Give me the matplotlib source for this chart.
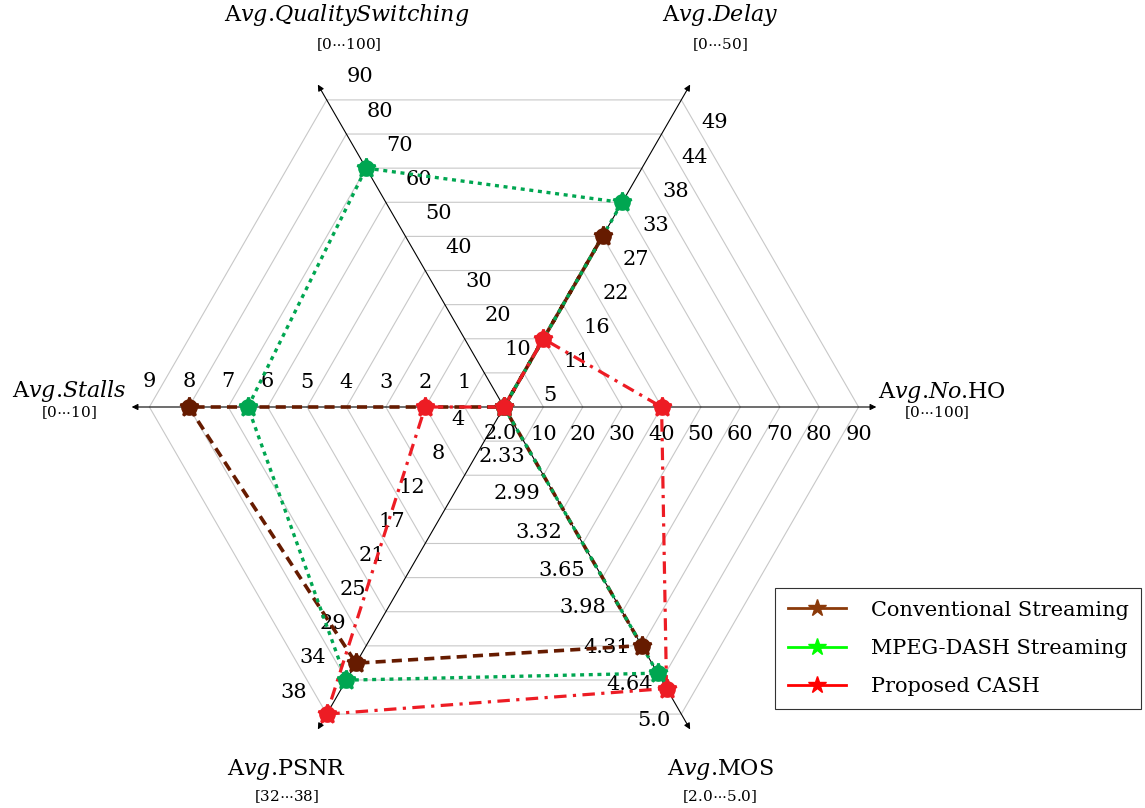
import numpy as np
import matplotlib.pyplot as plt
from matplotlib.lines import Line2D

plt.rcParams['font.family'] = 'DejaVu Serif'
plt.rcParams['mathtext.fontset'] = 'dejavuserif'

# axes, clockwise from the upper left spoke
axis_titles = [r'A$vg$.$QualitySwitching$', r'A$vg$.$Delay$', r'A$vg$.$No$.HO',
               r'A$vg$.MOS', r'A$vg$.PSNR', r'A$vg$.$Stalls$']
axis_ranges = [r'[0$\cdots$100]', r'[0$\cdots$50]', r'[0$\cdots$100]',
               r'[2.0$\cdots$5.0]', r'[32$\cdots$38]', r'[0$\cdots$10]']
axis_angles = [120, 60, 0, -60, -120, 180]
axis_min = [0, 0, 0, 2.0, 0, 0]
axis_step = [10, 50 / 9, 10, 1 / 3, 38 / 9, 1]   # value of one grid ring

qs_ticks = ['10', '20', '30', '40', '50', '60', '70', '80', '90']
delay_ticks = ['5', '11', '16', '22', '27', '33', '38', '44', '49']
noho_ticks = ['10', '20', '30', '40', '50', '60', '70', '80', '90']
mos_ticks = ['2.0', '2.33', '2.99', '3.32', '3.65', '3.98', '4.31', '4.64', '5.0']
psnr_ticks = ['4', '8', '12', '17', '21', '25', '29', '34', '38']
stalls_ticks = ['1', '2', '3', '4', '5', '6', '7', '8', '9']

# values: QS, Delay, No.HO, MOS, PSNR, Stalls
conventional = [0, 27.8, 0, 4.33, 31.7, 8]
mpeg_dash = [70, 33.3, 0, 4.6, 33.8, 6.5]
cash = [0, 11.1, 40, 4.75, 38.0, 2]

series_names = ['Conventional Streaming', 'MPEG-DASH Streaming', 'Proposed CASH']

U = 39.4  # pixels per grid ring
W, H = 1145, 808
cx, cy = 504, 407

fig = plt.figure(figsize=(W / 100, H / 100), dpi=100)
ax = fig.add_axes([0, 0, 1, 1])
ax.set_xlim(-cx / U, (W - cx) / U)
ax.set_ylim(-(H - cy) / U, cy / U)
ax.axis('off')

th = np.deg2rad(axis_angles)
ux, uy = np.cos(th), np.sin(th)

# hexagon grid
for k in range(1, 10):
    ax.plot(np.append(k * ux, k * ux[0]), np.append(k * uy, k * uy[0]),
            color='#c8c8c8', lw=0.8, zorder=1)

# spokes
for i in range(6):
    ax.annotate('', xy=(9.45 * ux[i], 9.45 * uy[i]), xytext=(0, 0),
                arrowprops=dict(arrowstyle='-|>', color='black', lw=0.8,
                                mutation_scale=9, shrinkA=0, shrinkB=0),
                zorder=2)

# tick labels
fs = 15
# the MOS labels sit a bit off the rings in the original
mos_r = [0.74, 1.37, 2.36, 3.5, 4.62, 5.71, 6.88, 8.0, 9.01]
mos_off = [-2, -6, -12, -12, -12, -12, -11, -10, -13]
nx, ny = np.cos(th[3] + np.pi / 2), np.sin(th[3] + np.pi / 2)
for k in range(1, 10):
    px, py = k * ux, k * uy
    ax.text(px[0] + 20 / U, py[0] + 23 / U, qs_ticks[k - 1], ha='left', va='center', fontsize=fs)
    ax.text(px[1] + 20 / U, py[1] - 23 / U, delay_ticks[k - 1], ha='left', va='center', fontsize=fs)
    ax.text(px[2], py[2] - 28 / U, noho_ticks[k - 1], ha='center', va='center', fontsize=fs)
    r, o = mos_r[k - 1], mos_off[k - 1] / U
    ax.text(r * ux[3] + o * nx, r * uy[3] + o * ny, mos_ticks[k - 1],
            ha='right', va='center', fontsize=fs)
    ax.text(px[4] - 20 / U, py[4] + 22 / U, psnr_ticks[k - 1], ha='right', va='center', fontsize=fs)
    ax.text(px[5], py[5] + 25 / U, stalls_ticks[k - 1], ha='center', va='center', fontsize=fs)

# axis titles
title_pos = [(-3.98, 9.95), (5.48, 9.95), (9.49, 0.38), (5.48, -9.21), (-5.51, -9.21), (-11.04, 0.41)]
sub_pos = [(-3.93, 9.21), (5.48, 9.21), (10.99, -0.15), (5.48, -9.90), (-5.51, -9.90), (-11.04, -0.15)]
for i in range(6):
    ax.text(*title_pos[i], axis_titles[i], ha='left' if i == 2 else 'center', va='center', fontsize=16)
    ax.text(*sub_pos[i], axis_ranges[i], ha='center', va='center', fontsize=11)

# series
styles = [
    dict(color='#661b00', ls=(0, (2.8, 1.7)), lw=2.6),
    dict(color='#00a651', ls=(0, (1.2, 1.4)), lw=2.4),
    dict(color='#ed1c24', ls=(0, (3.9, 2.0, 1.0, 2.0)), lw=2.3),
]
for vals, st in zip([conventional, mpeg_dash, cash], styles):
    lev = (np.array(vals) - np.array(axis_min)) / np.array(axis_step)
    x = np.append(lev * ux, lev[0] * ux[0])
    y = np.append(lev * uy, lev[0] * uy[0])
    ax.plot(x, y, color=st['color'], ls=st['ls'], lw=st['lw'], zorder=3)
    ax.plot(lev * ux, lev * uy, ls='none', marker='o', ms=11,
            color=st['color'], mec=st['color'], zorder=4)
    ax.plot(lev * ux, lev * uy, ls='none', marker='*', ms=14, mew=2,
            color=st['color'], mec=st['color'], zorder=4)

# legend
leg_colors = ['#8b3a0a', '#00ff00', '#ff0000']
handles = [Line2D([], [], color=c, lw=2, marker='*', ms=13) for c in leg_colors]
leg = fig.legend(handles, series_names, loc='upper left',
                 bbox_to_anchor=(775 / W, 1 - 588 / H), frameon=True, fancybox=False,
                 edgecolor='black', fontsize=15, handlelength=2.8, handletextpad=1.2,
                 borderpad=0.6, labelspacing=0.93, borderaxespad=0)
leg.get_frame().set_linewidth(0.8)

plt.savefig('out.png', dpi=100)
